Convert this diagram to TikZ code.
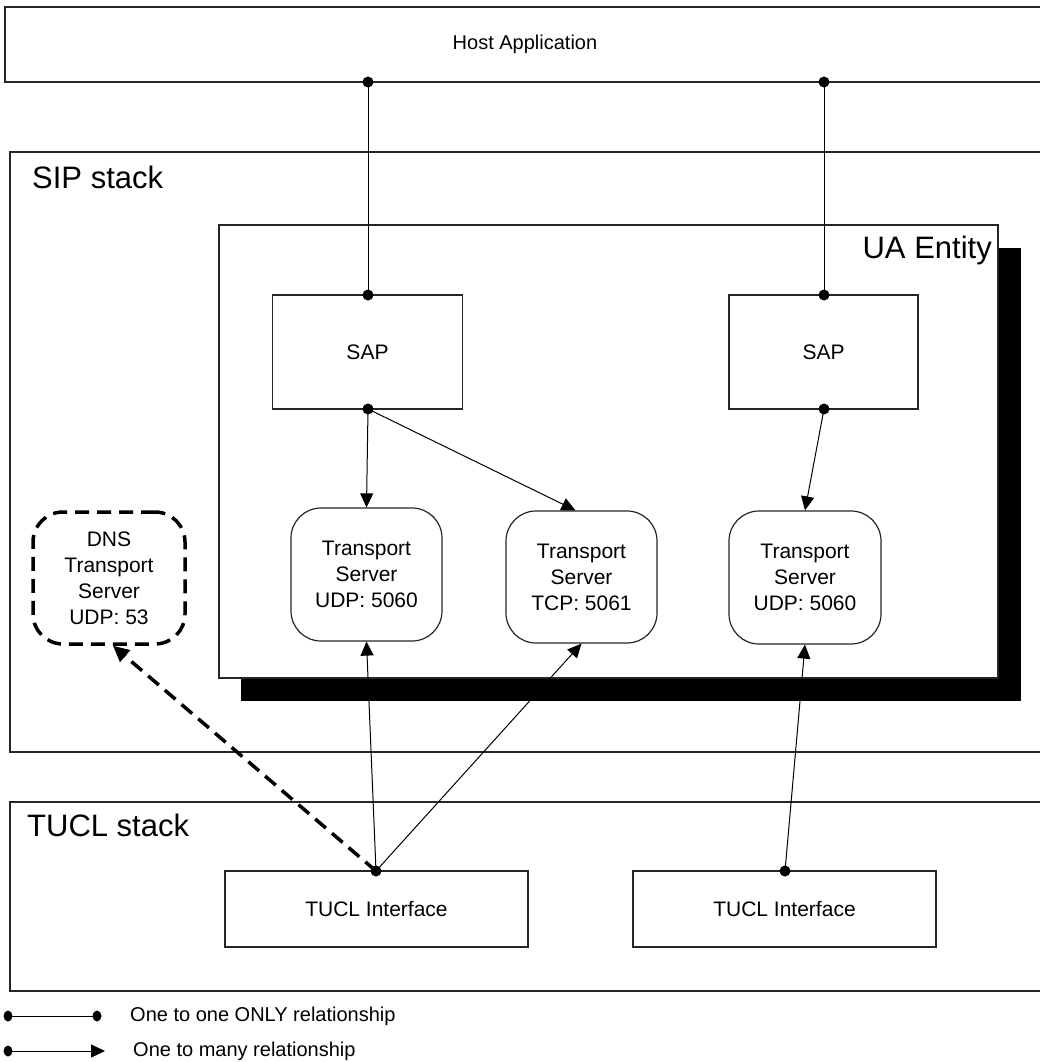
\documentclass[tikz,border=0pt]{standalone}
\usepackage{fontspec}
\setmainfont{Liberation Sans}
\usetikzlibrary{arrows.meta,calc}

\tikzset{
  box/.style={draw=black!85, line width=1.2pt, fill=white, inner sep=0pt,
              font=\fontsize{21}{26}\selectfont, align=center},
  rbox/.style={box, rounded corners=30pt},
  dnsbox/.style={draw=black, line width=3.5pt, dash pattern=on 14pt off 8pt,
                 rounded corners=30pt, inner sep=0pt,
                 font=\fontsize{21}{26}\selectfont, align=center},
  biglabel/.style={font=\fontsize{31}{36}\selectfont, inner sep=0pt},
  legendtext/.style={font=\fontsize{20}{24}\selectfont, inner sep=0pt, anchor=west},
  link/.style={line width=1pt, black},
  onemany/.style={line width=1pt, black, -{Triangle[length=14pt,width=13pt]}},
  dnslink/.style={line width=3.5pt, black, dash pattern=on 14pt off 8pt,
                  -{Triangle[length=16pt,width=15pt]}},
  dot/.style={fill=black}
}

\begin{document}
\begin{tikzpicture}[x=1pt, y=-1pt]
\useasboundingbox (0,0) rectangle (1040,1062);
\clip (0,0) rectangle (1040,1062);

% Host application band across the top
\node[box, minimum width=1040pt, minimum height=75pt,
      font=\fontsize{20}{24}\selectfont] (host) at (525,44.5) {Host Application};

% SIP stack container
\node[box, minimum width=1035pt, minimum height=600pt] (sip) at (527.5,452) {};
\node[biglabel, anchor=base west] (siplabel) at (32,188) {SIP stack};

% UA entity with its heavy drop shadow
\fill[black] (241,248) rectangle (1021,701);
\node[box, minimum width=779pt, minimum height=453pt] (ua) at (608.5,451.5) {};
\node[biglabel, anchor=base east] (ualabel) at (992,258) {UA Entity};

% Service access points
\node[box, minimum width=190pt, minimum height=114pt] (sapA) at (367.5,352) {SAP};
\node[box, minimum width=189pt, minimum height=114pt] (sapB) at (823.5,352) {SAP};

% Transport servers
\node[rbox, minimum width=151pt, minimum height=133pt] (udpA) at (366.5,574.5)
  {Transport\\Server\\UDP: 5060};
\node[rbox, minimum width=151pt, minimum height=132pt] (tcp) at (581.5,577)
  {Transport\\Server\\TCP: 5061};
\node[rbox, minimum width=152pt, minimum height=133pt] (udpB) at (805,577.5)
  {Transport\\Server\\UDP: 5060};

% DNS transport server
\node[dnsbox, minimum width=152pt, minimum height=132pt] (dns) at (109,578)
  {DNS\\Transport\\Server\\UDP: 53};

% TUCL stack container and interfaces
\node[box, minimum width=1035pt, minimum height=189pt] (tucl) at (527.5,896.5) {};
\node[biglabel, anchor=base west] (tucllabel) at (27,836) {TUCL stack};
\node[box, minimum width=303pt, minimum height=76pt] (ifA) at (376.5,909) {TUCL Interface};
\node[box, minimum width=303pt, minimum height=76pt] (ifB) at (784.5,909) {TUCL Interface};

% Connection points
\coordinate (h1) at (368,82);
\coordinate (h2) at (824,82);
\coordinate (s1t) at (368,295);
\coordinate (s2t) at (824,295);
\coordinate (s1b) at (368,409);
\coordinate (s2b) at (824,409);
\coordinate (t1) at (376,871);
\coordinate (t2) at (785,871);

% One-to-one links
\draw[link] (h1) -- (s1t);
\draw[link] (h2) -- (s2t);

% One-to-many links
\draw[onemany] (s1b) -- (udpA.north);
\draw[onemany] (s1b) -- ([xshift=-6pt]tcp.north);
\draw[onemany] (s2b) -- (udpB.north);
\draw[onemany] (t1) -- (udpA.south);
\draw[onemany] (t1) -- (tcp.south);
\draw[onemany] (t2) -- (udpB.south);
\draw[dnslink] (t1) -- ([xshift=4pt]dns.south);

% Dots
\foreach \p in {h1,h2,s1t,s2t,s1b,s2b,t1,t2}
  \fill[dot] (\p) circle (5.5pt);

% Legend
\coordinate (l1a) at (8,1016);
\coordinate (l1b) at (97,1016);
\coordinate (l2a) at (8,1051);
\coordinate (l2b) at (105,1051);
\draw[link] (l1a) -- (l1b);
\fill[dot] (l1a) ellipse (4.5pt and 5.5pt);
\fill[dot] (l1b) ellipse (4.5pt and 5.5pt);
\draw[onemany] (l2a) -- (l2b);
\fill[dot] (l2a) ellipse (4.5pt and 5.5pt);
\node[legendtext] (leg1) at (130,1016) {One to one ONLY relationship};
\node[legendtext] (leg2) at (133,1051) {One to many relationship};
\end{tikzpicture}
\end{document}
